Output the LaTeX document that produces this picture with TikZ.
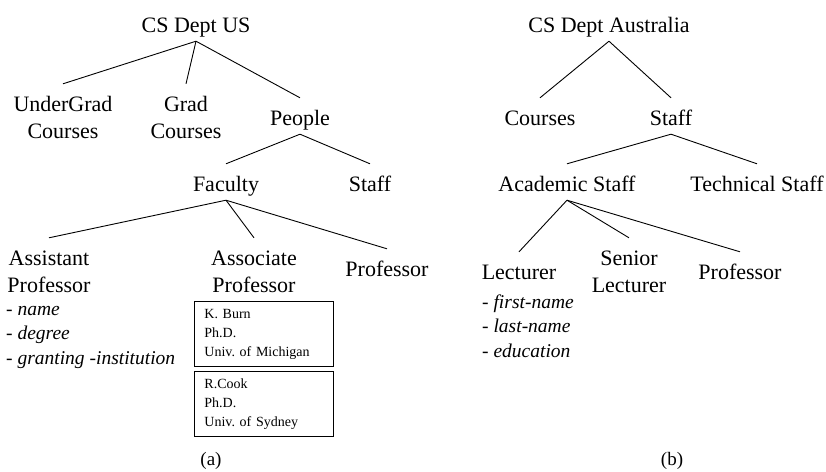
\documentclass[tikz,border=0pt]{standalone}
\usepackage{fontspec}
\setmainfont{Liberation Serif}
\usetikzlibrary{positioning}

\tikzset{
  lbl/.style={anchor=base, inner xsep=2pt, inner ysep=4pt, text height=23pt, text depth=5pt,
    font=\fontsize{22}{27}\selectfont},
  lbltwo/.style={anchor=base, align=center, inner xsep=2pt, inner ysep=4pt, text height=50pt,
    font=\fontsize{22}{27}\selectfont},
  attrs/.style={anchor=base west, align=left, inner sep=0pt, font=\fontsize{19.5}{24.5}\selectfont},
  card/.style={draw, line width=0.9pt, align=left, text width=119pt, minimum height=65pt,
    inner xsep=10pt, inner ysep=0pt, anchor=north west, font=\fontsize{14}{19}\selectfont\frenchspacing},
  caption/.style={anchor=base, font=\fontsize{19}{23}\selectfont},
  branch/.style={line width=0.9pt}
}

\begin{document}
\begin{tikzpicture}[x=1pt, y=-1pt]
  \useasboundingbox (0,0) rectangle (826,471);

  % Ліве дерево: CS Dept US
  \node[lbl] (usroot) at (196,32) {CS Dept US};
  \node[lbltwo] (undergrad) at (63,138) {UnderGrad\\Courses};
  \node[lbltwo] (grad) at (186,138) {Grad\\Courses};
  \node[lbl] (people) at (300,125) {People};
  \node[lbl] (faculty) at (226,191) {Faculty};
  \node[lbl] (usstaff) at (370,191) {Staff};
  \node[lbltwo] (assistant) at (49,292) {Assistant\\Professor};
  \node[lbltwo] (associate) at (254,292) {Associate\\Professor};
  \node[lbl] (usprof) at (387,276) {Professor};

  % Гілки лівого дерева
  \draw[branch] (usroot.south) -- (undergrad.north);
  \draw[branch] (usroot.south) -- (grad.north);
  \draw[branch] (usroot.south) -- (people.north);
  \draw[branch] (people.south) -- (faculty.north);
  \draw[branch] (people.south) -- (usstaff.north);
  \draw[branch] (faculty.south) -- (assistant.north);
  \draw[branch] (faculty.south) -- (associate.north);
  \draw[branch] (faculty.south) -- (usprof.north);

  % Атрибути та екземпляри
  \node[attrs] (asstattr) at (6,364)
    {- \textit{name}\\- \textit{degree}\\- \textit{granting -institution}};
  \node[card] (burn) at (194,301) {K. Burn\\Ph.D.\\Univ. of Michigan};
  \node[card, below=4pt of burn] (cook) {R.Cook\\Ph.D.\\Univ. of Sydney};
  \node[caption] (capa) at (211,465) {(a)};

  % Праве дерево: CS Dept Australia
  \node[lbl] (auroot) at (609,32) {CS Dept Australia};
  \node[lbl] (courses) at (540,125) {Courses};
  \node[lbl] (austaff) at (671,125) {Staff};
  \node[lbl] (academic) at (567,191) {Academic Staff};
  \node[lbl] (technical) at (757,191) {Technical Staff};
  \node[lbl] (lecturer) at (519,279) {Lecturer};
  \node[lbltwo] (senior) at (629,292) {Senior\\Lecturer};
  \node[lbl] (auprof) at (740,279) {Professor};

  % Гілки правого дерева
  \draw[branch] (auroot.south) -- (courses.north);
  \draw[branch] (auroot.south) -- (austaff.north);
  \draw[branch] (austaff.south) -- (academic.north);
  \draw[branch] (austaff.south) -- (technical.north);
  \draw[branch] (academic.south) -- (lecturer.north);
  \draw[branch] (academic.south) -- (senior.north);
  \draw[branch] (academic.south) -- (auprof.north);

  \node[attrs] (lectattr) at (482,357)
    {- \textit{first-name}\\- \textit{last-name}\\- \textit{education}};
  \node[caption] (capb) at (672,465) {(b)};
\end{tikzpicture}
\end{document}
